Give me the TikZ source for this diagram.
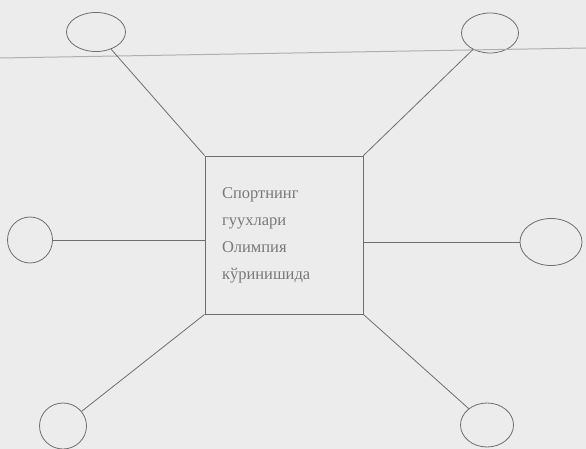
\documentclass[tikz,border=0pt]{standalone}
\usepackage{fontspec}
\setmainfont{Liberation Serif}
\usepackage{xcolor}
\usepackage{tikz}
\usetikzlibrary{shapes.geometric}
\definecolor{paperbg}{RGB}{236,236,236}
\definecolor{inkgray}{RGB}{110,110,110}
\definecolor{textgray}{RGB}{120,120,120}
\definecolor{scangray}{RGB}{175,175,175}
\tikzset{
  topicbox/.style={
    rectangle,
    draw=inkgray,
    thick,
    align=left,
    text width=124pt,
    minimum width=158pt,
    minimum height=158pt,
    inner xsep=17pt,
    text=textgray,
    font=\fontsize{16.5}{27}\selectfont
  },
  leafoval/.style={
    ellipse,
    draw=inkgray,
    thick,
    inner sep=0pt
  },
  spoke/.style={
    draw=inkgray,
    thick
  },
  scanline/.style={
    draw=scangray,
    line width=1pt
  }
}

\begin{document}
\begin{tikzpicture}[x=1pt,y=-1pt]
\fill[paperbg] (0,0) rectangle (586,449);
\useasboundingbox (0,0) rectangle (586,449);

\node[topicbox] (topic) at (284,235) {Спортнинг\\гуухлари\\Олимпия\\кўринишида};

\node[leafoval, minimum width=59pt, minimum height=39pt] (topleft) at (96,32) {};
\node[leafoval, minimum width=57pt, minimum height=40pt] (topright) at (490,33) {};
\node[leafoval, minimum width=45pt, minimum height=46pt] (left) at (30,240) {};
\node[leafoval, minimum width=62pt, minimum height=47pt] (right) at (551,242) {};
\node[leafoval, minimum width=47pt, minimum height=46pt] (botleft) at (63,426) {};
\node[leafoval, minimum width=53pt, minimum height=44pt] (botright) at (487,425) {};

\coordinate (scanA) at (0,58);
\coordinate (scanB) at (586,48);
\draw[scanline] (scanA) -- (scanB);

\draw[spoke] (topleft) -- (topic.north west);
\draw[spoke] (topright) -- (topic.north east);
\draw[spoke] (left) -- (left -| topic.west);
\draw[spoke] (right) -- (right -| topic.east);
\draw[spoke] (botleft) -- (topic.south west);
\draw[spoke] (botright) -- (topic.south east);
\end{tikzpicture}
\end{document}
